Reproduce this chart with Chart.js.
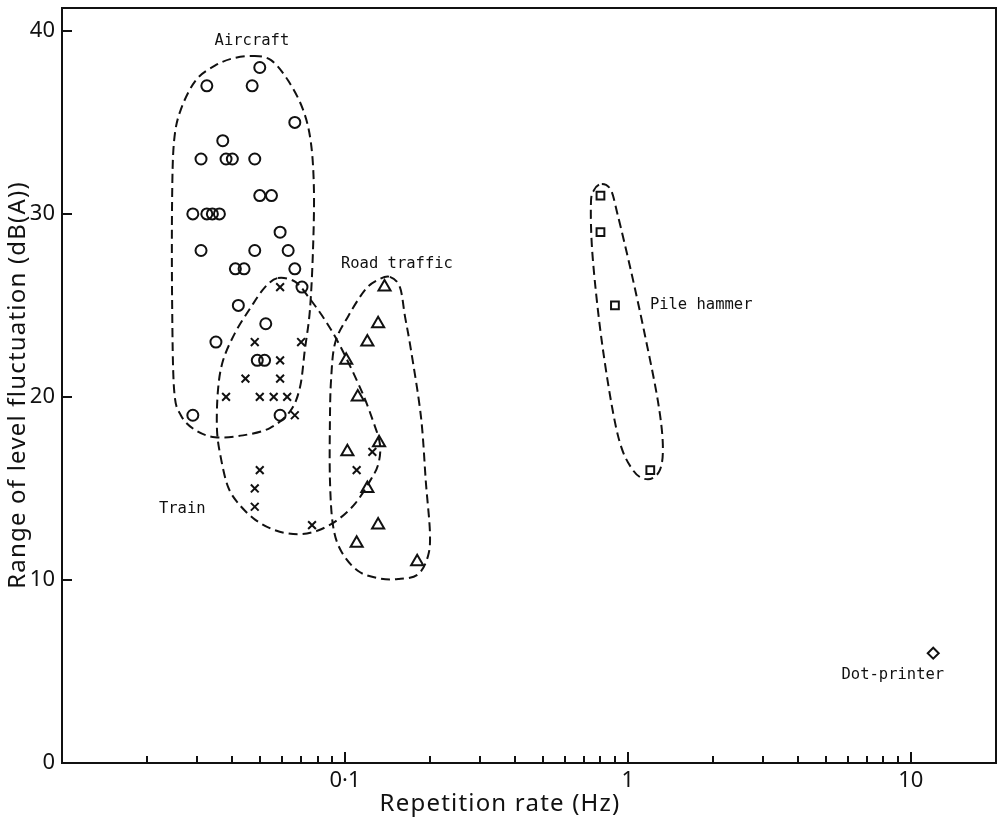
<!DOCTYPE html>
<html>
<head>
<meta charset="utf-8">
<script src="https://cdn.jsdelivr.net/npm/chart.js@4.4.1/dist/chart.umd.min.js"></script>
<style>
  html, body { margin: 0; padding: 0; background: #fff; }
  #wrap { width: 1000px; height: 821px; }
</style>
</head>
<body>
<div id="wrap"><canvas id="c" width="1000" height="821"></canvas></div>
<script>
// Repetition rate (Hz) vs range of level fluctuation (dB(A)) for each noise source
const aircraft = [
  [0.050, 38], [0.0325, 37], [0.047, 37], [0.0665, 35], [0.037, 34],
  [0.031, 33], [0.038, 33], [0.040, 33], [0.048, 33], [0.050, 31], [0.055, 31],
  [0.029, 30], [0.0325, 30], [0.034, 30], [0.036, 30], [0.059, 29],
  [0.031, 28], [0.048, 28], [0.063, 28], [0.041, 27], [0.044, 27], [0.0665, 27],
  [0.0705, 26], [0.042, 25], [0.0525, 24], [0.035, 23], [0.049, 22], [0.052, 22],
  [0.029, 19], [0.059, 19]
];
const train = [
  [0.059, 26], [0.048, 23], [0.070, 23], [0.059, 22], [0.0445, 21], [0.059, 21],
  [0.038, 20], [0.050, 20], [0.056, 20], [0.0625, 20], [0.0665, 19],
  [0.125, 17], [0.110, 16], [0.050, 16], [0.048, 15], [0.048, 14], [0.0765, 13]
];
const roadTraffic = [
  [0.138, 26], [0.131, 24], [0.120, 23], [0.101, 22], [0.111, 20], [0.132, 17.5],
  [0.102, 17], [0.120, 15], [0.131, 13], [0.110, 12], [0.180, 11]
];
const pileHammer = [[0.80, 31], [0.80, 29], [0.90, 25], [1.20, 16]];
const dotPrinter = [[12, 6]];

// Dashed outlines around each group, as closed loops in (Hz, dB) units
const aircraftOutline = [
  [0.0473, 38.63], [0.0548, 38.4], [0.0629, 37.3], [0.0711, 35.7], [0.0758, 33.9],
  [0.0777, 31.3], [0.0771, 28.0], [0.0752, 24.75], [0.0722, 22.6], [0.0693, 20.5],
  [0.0639, 19.2], [0.0543, 18.3], [0.0436, 17.9], [0.0347, 17.8], [0.0295, 18.2],
  [0.0263, 19.0], [0.0249, 20.4], [0.0245, 25.3], [0.0245, 30.8], [0.0249, 34.0],
  [0.0263, 35.7], [0.0297, 37.3], [0.0347, 38.1], [0.0402, 38.5]
];
const trainOutline = [
  [0.058, 26.5], [0.0666, 26.3], [0.074, 25.5], [0.085, 24.2], [0.0968, 22.7],
  [0.1139, 20.4], [0.1256, 18.7], [0.133, 17.4], [0.131, 16.3], [0.1225, 15.4],
  [0.109, 14.2], [0.0945, 13.3], [0.0803, 12.7], [0.0682, 12.5], [0.057, 12.7],
  [0.0481, 13.3], [0.0419, 14.2], [0.0386, 15.1], [0.0365, 16.6], [0.0353, 18.2],
  [0.0356, 20.4], [0.0371, 22.0], [0.0409, 23.5], [0.0465, 24.9], [0.0522, 26.0]
];
const roadOutline = [
  [0.1442, 26.56], [0.1564, 26.0], [0.163, 24.4], [0.171, 22.6], [0.1857, 18.9],
  [0.1933, 15.3], [0.1997, 12.6], [0.1965, 11.3], [0.181, 10.3], [0.154, 10.05],
  [0.131, 10.1], [0.111, 10.5], [0.0968, 11.6], [0.0907, 13.0], [0.0885, 15.5],
  [0.0885, 18.7], [0.0893, 20.9], [0.0923, 22.95], [0.1026, 24.4], [0.1178, 25.85],
  [0.131, 26.4]
];
const pileOutline = [
  [0.809, 31.64], [0.871, 31.3], [0.922, 29.9], [1.025, 26.9], [1.148, 23.4],
  [1.276, 19.8], [1.329, 17.4], [1.297, 16.0], [1.177, 15.5], [1.042, 16.0],
  [0.922, 17.9], [0.816, 22.6], [0.752, 27.5], [0.740, 30.5], [0.759, 31.3]
];
const outlines = [aircraftOutline, trainOutline, roadOutline, pileOutline];

// Group names and where they sit (Hz, dB)
const groupNames = ['Aircraft', 'Road traffic', 'Train', 'Pile hammer', 'Dot-printer'];
const groupNameAt = [[0.0469, 39.45], [0.0968, 27.27], [0.0266, 13.9], [1.196, 25.0], [8.64, 4.8]];
const groupNameAlign = ['center', 'left', 'center', 'left', 'center'];

// Axis ticks and labels
const xLabelValues = [0.1, 1, 10];
const xLabelTexts = ['0·1', '1', '10'];
const yLabelValues = [0, 10, 20, 30, 40];
const xTitle = 'Repetition rate (Hz)';
const yTitle = 'Range of level fluctuation (dB(A))';

const INK = '#111';
const SANS = '"Noto Sans", "DejaVu Sans", sans-serif';
const MONO = '"DejaVu Sans Mono", "Liberation Mono", monospace';

const toPoints = arr => arr.map(([x, y]) => ({ x, y }));

function marker(label, data, style, r) {
  return {
    label, data: toPoints(data), showLine: false,
    pointStyle: style, pointRadius: r, pointHoverRadius: r,
    pointBorderWidth: 2, borderColor: INK, backgroundColor: 'rgba(0,0,0,0)',
    pointBorderColor: INK, pointBackgroundColor: 'rgba(0,0,0,0)'
  };
}

function closedSpline(ctx, pts) {
  const n = pts.length;
  ctx.moveTo(pts[0].x, pts[0].y);
  for (let i = 0; i < n; i++) {
    const p0 = pts[(i - 1 + n) % n], p1 = pts[i], p2 = pts[(i + 1) % n], p3 = pts[(i + 2) % n];
    ctx.bezierCurveTo(
      p1.x + (p2.x - p0.x) / 6, p1.y + (p2.y - p0.y) / 6,
      p2.x - (p3.x - p1.x) / 6, p2.y - (p3.y - p1.y) / 6,
      p2.x, p2.y);
  }
  ctx.closePath();
}

// scales keep exactly the box they are given, no extra room for end labels
function fixedBox(size, horizontal) {
  return s => {
    if (horizontal) { s.height = size; } else { s.width = size; }
    s.paddingTop = 0; s.paddingBottom = 0; s.paddingLeft = 0; s.paddingRight = 0;
  };
}

const figurePlugin = {
  id: 'figure',
  beforeDatasetsDraw(chart) {
    const { ctx, scales: { x, y } } = chart;
    ctx.save();
    ctx.strokeStyle = INK;
    ctx.lineWidth = 2;
    ctx.setLineDash([9, 5]);
    outlines.forEach(loop => {
      const pts = loop.map(([vx, vy]) => ({ x: x.getPixelForValue(vx), y: y.getPixelForValue(vy) }));
      ctx.beginPath();
      closedSpline(ctx, pts);
      ctx.stroke();
    });
    ctx.restore();
  },
  afterDraw(chart) {
    const { ctx, chartArea: a, scales: { x, y } } = chart;
    ctx.save();
    ctx.strokeStyle = INK;
    ctx.lineWidth = 2;
    ctx.setLineDash([]);
    ctx.strokeRect(a.left, a.top, a.right - a.left, a.bottom - a.top);

    // tick marks pointing into the plot
    ctx.beginPath();
    yLabelValues.forEach(v => {
      if (v === 0) return;
      const py = Math.round(y.getPixelForValue(v));
      ctx.moveTo(a.left, py); ctx.lineTo(a.left + 10, py);
    });
    for (let e = -2; e <= 1; e++) {
      for (let k = 1; k <= 9; k++) {
        const v = k * Math.pow(10, e);
        if (v <= 0.0100001 || v > 20) continue;
        const px = Math.round(x.getPixelForValue(v));
        const len = k === 1 ? 11 : 7;
        ctx.moveTo(px, a.bottom); ctx.lineTo(px, a.bottom - len);
      }
    }
    ctx.lineWidth = 2;
    ctx.stroke();

    // group names
    ctx.fillStyle = INK;
    ctx.font = '15.5px ' + MONO;
    ctx.textBaseline = 'middle';
    groupNames.forEach((t, i) => {
      ctx.textAlign = groupNameAlign[i];
      ctx.fillText(t, x.getPixelForValue(groupNameAt[i][0]), y.getPixelForValue(groupNameAt[i][1]));
    });

    // axis titles
    ctx.font = '24px ' + SANS;
    ctx.letterSpacing = '1.2px';
    ctx.textAlign = 'center';
    ctx.textBaseline = 'middle';
    ctx.fillText(xTitle, 500, 804);
    ctx.translate(18, 385);
    ctx.rotate(-Math.PI / 2);
    ctx.fillText(yTitle, 0, 0);
    ctx.restore();
  }
};

new Chart(document.getElementById('c'), {
  type: 'scatter',
  data: {
    datasets: [
      marker('Aircraft', aircraft, 'circle', 5.5),
      marker('Train', train, 'crossRot', 5.5),
      marker('Road traffic', roadTraffic, 'triangle', 7),
      marker('Pile hammer', pileHammer, 'rect', 5.5),
      marker('Dot-printer', dotPrinter, 'rectRot', 5.5)
    ]
  },
  options: {
    responsive: false,
    animation: false,
    devicePixelRatio: 1,
    layout: { autoPadding: false, padding: { top: 8, right: 4, left: 0, bottom: 0 } },
    plugins: { legend: { display: false }, tooltip: { enabled: false } },
    events: [],
    scales: {
      x: {
        type: 'logarithmic', min: 0.01, max: 20, position: 'bottom',
        grid: { display: false, drawTicks: false },
        border: { display: false },
        afterBuildTicks: s => { s.ticks = xLabelValues.map(v => ({ value: v })); },
        afterFit: fixedBox(58, true),
        ticks: {
          autoSkip: false, maxRotation: 0, padding: 5, color: INK,
          font: { family: SANS, size: 22 },
          callback: (v, i) => xLabelTexts[i]
        }
      },
      y: {
        min: 0, max: 41.25,
        grid: { display: false, drawTicks: false },
        border: { display: false },
        afterBuildTicks: s => { s.ticks = yLabelValues.map(v => ({ value: v })); },
        afterFit: fixedBox(62, false),
        ticks: {
          padding: 7, color: INK,
          font: { family: SANS, size: 22 },
          callback: v => String(v)
        }
      }
    }
  },
  plugins: [figurePlugin]
});
</script>
</body>
</html>
